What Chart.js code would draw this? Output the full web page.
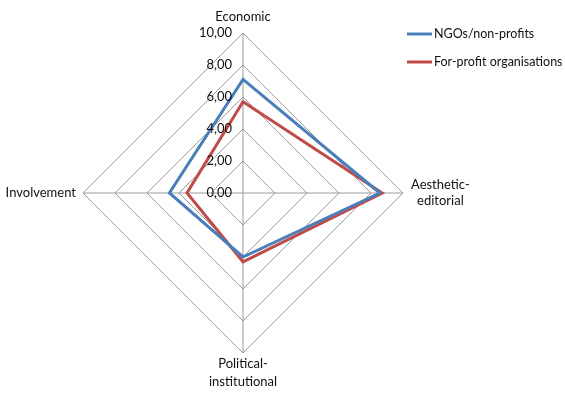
<!DOCTYPE html>
<html>
<head>
<meta charset="utf-8">
<script src="https://cdn.jsdelivr.net/npm/chart.js@4/dist/chart.umd.min.js"></script>
<style>
  html, body { margin: 0; padding: 0; background: #ffffff; }
  #wrap { width: 565px; height: 394px; position: relative; }
</style>
</head>
<body>
<div id="wrap"><canvas id="c" width="565" height="394"></canvas></div>
<script>
// Dimensions of the radar (clockwise from the top)
const categories = [['Economic'], ['Aesthetic-', 'editorial'], ['Political-', 'institutional'], ['Involvement']];
const seriesNames = ['NGOs/non-profits', 'For-profit organisations'];
const ngoValues = [7.1, 8.55, 4.0, 4.6];
const forProfitValues = [5.7, 8.7, 4.3, 3.5];
const tickValues = [0, 2, 4, 6, 8, 10];

const FONT = 'Lato, "Open Sans", sans-serif';
const TEXT = '#111111';

function fmt(v) { return v.toFixed(2).replace('.', ','); }

// Tick labels, placed to the left of the vertical axis
const tickLabelPlugin = {
  id: 'tickLabels',
  afterDraw(chart) {
    const s = chart.scales.r;
    const ctx = chart.ctx;
    ctx.save();
    ctx.font = '13px ' + FONT;
    ctx.fillStyle = TEXT;
    ctx.textAlign = 'right';
    ctx.textBaseline = 'middle';
    s.ticks.forEach(t => {
      const d = s.getDistanceFromCenterForValue(t.value);
      ctx.fillText(fmt(t.value), s.xCenter - 11, s.yCenter - d);
    });
    ctx.restore();
  }
};

// Axis titles around the outer ring
const pointLabelPlugin = {
  id: 'axisTitles',
  afterDraw(chart) {
    const s = chart.scales.r;
    const ctx = chart.ctx;
    const lh = 16;
    ctx.save();
    ctx.font = '13px ' + FONT;
    ctx.fillStyle = TEXT;
    ctx.textBaseline = 'middle';
    chart.data.labels.forEach((lines, i) => {
      const p = s.getPointPosition(i, s.drawingArea);
      if (i === 0) {
        ctx.textAlign = 'center';
        ctx.fillText(lines[0], p.x, p.y - 16);
      } else if (i === 1) {
        const w = Math.max(...lines.map(l => ctx.measureText(l).width));
        ctx.textAlign = 'center';
        const cx = p.x + 8 + w / 2;
        lines.forEach((l, k) => ctx.fillText(l, cx, p.y - 8 + k * lh));
      } else if (i === 2) {
        ctx.textAlign = 'center';
        lines.forEach((l, k) => ctx.fillText(l, p.x, p.y + 11 + k * 18));
      } else {
        ctx.textAlign = 'right';
        ctx.fillText(lines[0], p.x - 7, p.y);
      }
    });
    ctx.restore();
  }
};

// Legend in the top-right corner
const legendPlugin = {
  id: 'sideLegend',
  afterDraw(chart) {
    const ctx = chart.ctx;
    ctx.save();
    ctx.font = '12.5px ' + FONT;
    ctx.textBaseline = 'middle';
    ctx.textAlign = 'left';
    chart.data.datasets.forEach((ds, i) => {
      const y = 34 + i * 28;
      ctx.strokeStyle = ds.borderColor;
      ctx.lineWidth = 3;
      ctx.beginPath();
      ctx.moveTo(407, y);
      ctx.lineTo(432, y);
      ctx.stroke();
      ctx.fillStyle = TEXT;
      ctx.fillText(ds.label, 434, y);
    });
    ctx.restore();
  }
};

new Chart(document.getElementById('c'), {
  type: 'radar',
  data: {
    labels: categories,
    datasets: [
      { label: seriesNames[0], data: ngoValues, borderColor: '#4a7ebb', borderWidth: 3,
        fill: false, pointRadius: 0, tension: 0 },
      { label: seriesNames[1], data: forProfitValues, borderColor: '#be4b48', borderWidth: 3,
        fill: false, pointRadius: 0, tension: 0 }
    ]
  },
  options: {
    responsive: false,
    animation: false,
    layout: { padding: { left: 83, right: 162, top: 33, bottom: 41 } },
    plugins: { legend: { display: false }, tooltip: { enabled: false } },
    scales: {
      r: {
        min: tickValues[0],
        max: tickValues[tickValues.length - 1],
        afterBuildTicks(scale) { scale.ticks = tickValues.map(v => ({ value: v })); },
        ticks: { display: false },
        pointLabels: { display: false },
        grid: { color: '#9a9a9a', lineWidth: 1 },
        angleLines: { color: '#9a9a9a', lineWidth: 1 }
      }
    }
  },
  plugins: [tickLabelPlugin, pointLabelPlugin, legendPlugin]
});
</script>
</body>
</html>
